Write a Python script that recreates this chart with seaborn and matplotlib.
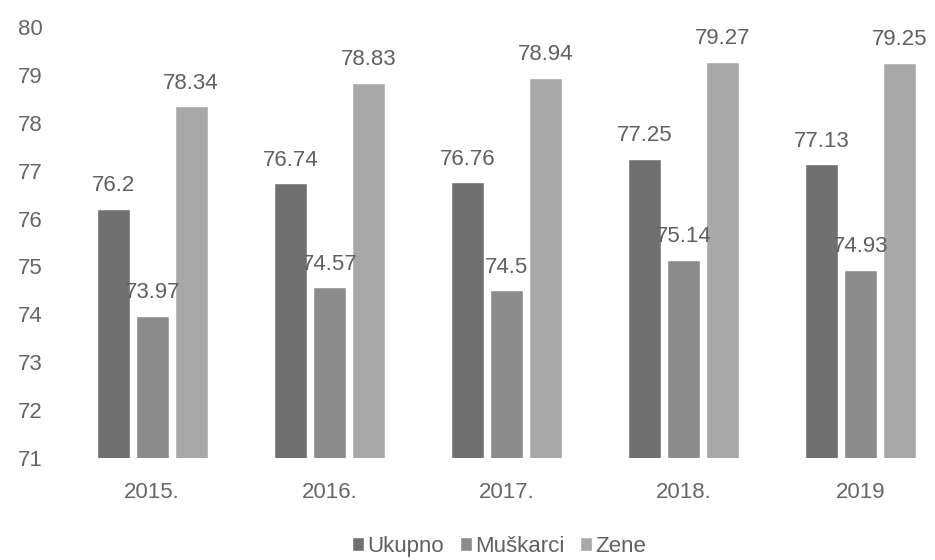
import pandas as pd
import matplotlib.pyplot as plt
import seaborn as sns

godine = ['2015.', '2016.', '2017.', '2018.', '2019']
ukupno = [76.2, 76.74, 76.76, 77.25, 77.13]
muskarci = [73.97, 74.57, 74.5, 75.14, 74.93]
zene = [78.34, 78.83, 78.94, 79.27, 79.25]
serije = ['Ukupno', 'Muškarci', 'Zene']
boje = ['#707070', '#8c8c8c', '#a8a8a8']

df = pd.DataFrame({
    'Godina': godine * 3,
    'Serija': [s for s in serije for _ in godine],
    'Vrijednost': ukupno + muskarci + zene,
})

sns.set_style('white')
plt.rcParams['font.family'] = ['Liberation Sans', 'DejaVu Sans']

fig = plt.figure(figsize=(9.35, 5.6), dpi=100)
ax = fig.add_axes([0.068, 0.182, 0.932, 0.77])

sns.barplot(data=df, x='Godina', y='Vrijednost', hue='Serija', palette=boje,
            width=0.66, gap=0.15, saturation=1, ax=ax, legend=True)

for c in ax.containers:
    ax.bar_label(c, labels=[f'{v:g}' for v in c.datavalues], padding=9,
                 fontsize=16, color='#606060')

ax.set_ylim(71, 80)
ax.set_xlim(-0.5, 4.42)
ax.set_yticks(range(71, 81))
ax.tick_params(axis='both', labelsize=16, colors='#666666', length=0)
ax.tick_params(axis='x', pad=17)
ax.tick_params(axis='y', pad=15)
ax.set_xlabel('')
ax.set_ylabel('')
sns.despine(ax=ax, left=True, bottom=True)

ax.legend(loc='center', bbox_to_anchor=(0.5, -0.205), ncol=3,
          frameon=False, fontsize=16, handlelength=0.55, handleheight=0.55,
          handletextpad=0.15, columnspacing=0.7, labelcolor='#606060',
          bbox_transform=ax.transAxes)

fig.savefig('out.png', dpi=100)
